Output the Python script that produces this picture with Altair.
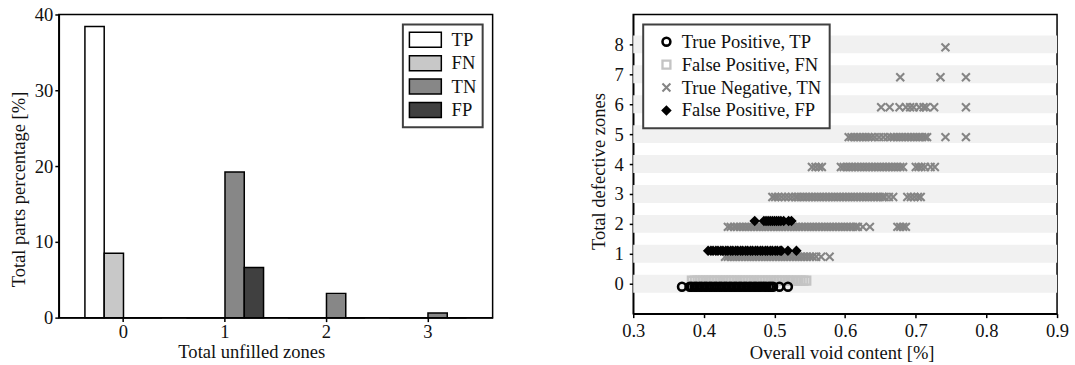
import altair as alt
import pandas as pd

FONT = "Liberation Serif"
FS = 18.6

# ---------------- Left chart data ----------------
zone_cats = [0, 1, 2, 3]
bar_classes = ["TP", "FN", "TN", "FP"]
tp_pct = [38.4, 0, 0, 0]
fn_pct = [8.5, 0, 0, 0]
tn_pct = [0, 19.2, 3.2, 0.6]
fp_pct = [0, 6.6, 0, 0]
bar_colors = ["#ffffff", "#c8c8c8", "#878787", "#404040"]

# ---------------- Right chart data ----------------
pt_labels = ["True Positive, TP", "False Positive, FN", "True Negative, TN", "False Positive, FP"]
defect_rows = [0, 1, 2, 3, 4, 5, 6, 7, 8]

tp_x_row0 = [0.369, 0.380, 0.383, 0.387, 0.390, 0.394, 0.397, 0.401, 0.404, 0.408, 0.411,
             0.415, 0.418, 0.422, 0.425, 0.429, 0.432, 0.436, 0.439, 0.443, 0.446, 0.450,
             0.453, 0.457, 0.460, 0.464, 0.467, 0.471, 0.474, 0.478, 0.481, 0.485, 0.488,
             0.492, 0.495, 0.498, 0.507, 0.519]

fn_x_row0 = [0.383, 0.387, 0.391, 0.395, 0.399, 0.403, 0.407, 0.411, 0.415, 0.419, 0.423,
             0.427, 0.431, 0.435, 0.439, 0.443, 0.447, 0.451, 0.455, 0.459, 0.463, 0.467,
             0.471, 0.475, 0.479, 0.483, 0.487, 0.491, 0.495, 0.499, 0.503, 0.507, 0.511,
             0.515, 0.519, 0.523, 0.527, 0.532, 0.537, 0.541, 0.545]

tn_x_row1 = [0.430, 0.434, 0.438, 0.442, 0.446, 0.450, 0.454, 0.458, 0.462, 0.466, 0.470,
             0.474, 0.478, 0.482, 0.486, 0.490, 0.494, 0.498, 0.502, 0.506, 0.510, 0.514,
             0.518, 0.522, 0.526, 0.530, 0.534, 0.538, 0.542, 0.546, 0.550, 0.554, 0.559,
             0.566, 0.578]
tn_x_row2 = [0.434, 0.438, 0.443, 0.447, 0.451, 0.455, 0.459, 0.463, 0.467, 0.471, 0.475,
             0.479, 0.483, 0.487, 0.491, 0.495, 0.499, 0.503, 0.507, 0.511, 0.515, 0.519,
             0.523, 0.527, 0.531, 0.535, 0.539, 0.543, 0.547, 0.551, 0.555, 0.559, 0.563,
             0.567, 0.571, 0.575, 0.579, 0.583, 0.587, 0.591, 0.595, 0.599, 0.603, 0.607,
             0.611, 0.615, 0.618, 0.625, 0.635, 0.674, 0.678, 0.682, 0.686]
tn_x_row3 = [0.497, 0.501, 0.505, 0.510, 0.515, 0.520, 0.525, 0.530, 0.533, 0.537, 0.541,
             0.545, 0.549, 0.553, 0.557, 0.561, 0.565, 0.569, 0.573, 0.577, 0.581, 0.585,
             0.589, 0.593, 0.597, 0.601, 0.605, 0.609, 0.613, 0.617, 0.621, 0.625, 0.629,
             0.633, 0.637, 0.641, 0.645, 0.649, 0.653, 0.656, 0.662, 0.668, 0.688, 0.693,
             0.698, 0.703, 0.707]
tn_x_row4 = [0.553, 0.558, 0.563, 0.567, 0.594, 0.598, 0.602, 0.606, 0.610, 0.614, 0.618,
             0.622, 0.626, 0.630, 0.634, 0.638, 0.642, 0.646, 0.650, 0.654, 0.658, 0.662,
             0.666, 0.670, 0.674, 0.678, 0.682, 0.700, 0.704, 0.708, 0.713, 0.721, 0.727]
tn_x_row5 = [0.605, 0.609, 0.613, 0.617, 0.621, 0.625, 0.629, 0.633, 0.637, 0.642, 0.648,
             0.654, 0.660, 0.665, 0.669, 0.673, 0.677, 0.681, 0.685, 0.689, 0.693, 0.697,
             0.701, 0.705, 0.709, 0.713, 0.716, 0.742, 0.771]
tn_x_row6 = [0.651, 0.663, 0.677, 0.686, 0.692, 0.697, 0.705, 0.711, 0.715, 0.726, 0.771]
tn_x_row7 = [0.678, 0.735, 0.771]
tn_x_row8 = [0.742]

fp_x_row1 = [0.406, 0.410, 0.413, 0.417, 0.420, 0.424, 0.427, 0.431, 0.434, 0.438, 0.441,
             0.445, 0.448, 0.452, 0.455, 0.459, 0.462, 0.466, 0.469, 0.473, 0.476, 0.480,
             0.483, 0.487, 0.490, 0.494, 0.497, 0.501, 0.504, 0.508, 0.510, 0.519, 0.531]
fp_x_row2 = [0.472, 0.485, 0.488, 0.491, 0.494, 0.497, 0.500, 0.503, 0.506, 0.509, 0.513,
             0.520, 0.524]

x_ticks = [0.3, 0.4, 0.5, 0.6, 0.7, 0.8, 0.9]

# ---------------- Build tables ----------------
left_rows = []
for cls, vals in zip(bar_classes, [tp_pct, fn_pct, tn_pct, fp_pct]):
    for z, v in zip(zone_cats, vals):
        left_rows.append({"zone": z, "cls": cls, "pct": v})
df_left = pd.DataFrame(left_rows)

TP, FNl, TN, FP = pt_labels
groups = [
    (FNl, 0, fn_x_row0, 0.1),
    (TN, 1, tn_x_row1, -0.1), (TN, 2, tn_x_row2, -0.1), (TN, 3, tn_x_row3, -0.1),
    (TN, 4, tn_x_row4, -0.1), (TN, 5, tn_x_row5, -0.1), (TN, 6, tn_x_row6, -0.1),
    (TN, 7, tn_x_row7, -0.1), (TN, 8, tn_x_row8, -0.1),
    (TP, 0, tp_x_row0, -0.1),
    (FP, 1, fp_x_row1, 0.1), (FP, 2, fp_x_row2, 0.1),
]
pts = []
order = 0
for cls, row, xs, off in groups:
    for v in xs:
        pts.append({"lab": cls, "zones": row, "y": row + off, "void": v, "ord": order})
        order += 1
df_pts = pd.DataFrame(pts)

df_bands = pd.DataFrame({"k": defect_rows})
df_bands["lo"] = df_bands["k"] - 0.3
df_bands["hi"] = df_bands["k"] + 0.3

# ---------------- Left chart ----------------
left_legend = alt.Legend(
    title=None, orient="top-right", offset=10, padding=6,
    strokeColor="#404040", fillColor="white",
    symbolType="M-2,-0.94H2V0.94H-2Z", symbolSize=256,
    symbolStrokeColor="black", symbolStrokeWidth=1.5, symbolOffset=7.25,
    labelOffset=17, labelFontSize=FS, labelFont=FONT, labelColor="#111",
    rowPadding=1.5,
)

left = alt.Chart(df_left).mark_bar(stroke="black", strokeWidth=1.5).encode(
    x=alt.X("zone:O",
            scale=alt.Scale(paddingInner=0.24, paddingOuter=0.257),
            axis=alt.Axis(title="Total unfilled zones", labelAngle=0, labelPadding=1,
                          titleX=193, titleY=40, titleBaseline="alphabetic",
                          titleAlign="center")),
    xOffset=alt.XOffset("cls:N", scale=alt.Scale(domain=bar_classes, paddingInner=0, paddingOuter=0)),
    y=alt.Y("pct:Q", scale=alt.Scale(domain=[0, 40], nice=False),
            axis=alt.Axis(title="Total parts percentage [%]", values=[0, 10, 20, 30, 40],
                          labelPadding=2, titleX=-40, titleY=175, titleAngle=270,
                          titleBaseline="middle", titleAlign="center")),
    fill=alt.Fill("cls:N", scale=alt.Scale(domain=bar_classes, range=bar_colors), legend=left_legend),
).properties(width=435, height=304)

# ---------------- Right chart ----------------
x_path = "M-1,-1L1,1M-1,1L1,-1"
right_legend = alt.Legend(
    title=None, orient="top-left", offset=10, padding=8,
    strokeColor="#404040", fillColor="white",
    labelFontSize=FS, labelFont=FONT, labelColor="#111",
    rowPadding=4, symbolOffset=6, labelOffset=6,
)

x_scale = alt.Scale(domain=[0.3, 0.9], nice=False, zero=False)
y_scale = alt.Scale(domain=[-1, 9], nice=False, zero=False)
x_axis = alt.Axis(title="Overall void content [%]", values=x_ticks, format=".1f",
                  labelFlush=False, labelPadding=4, titleX=209, titleY=45,
                  titleBaseline="alphabetic", titleAlign="center")
y_axis = alt.Axis(title="Total defective zones", values=defect_rows, labelPadding=6,
                  titleX=-35, titleY=157, titleAngle=270, titleBaseline="middle",
                  titleAlign="center")

bands = alt.Chart(df_bands).mark_rect(color="#f1f1f1").encode(
    x=alt.X(datum=x_ticks[0], scale=x_scale, axis=x_axis),
    x2=alt.X2(datum=x_ticks[-1]),
    y=alt.Y("lo:Q", scale=y_scale, axis=y_axis),
    y2="hi:Q",
)

points = alt.Chart(df_pts).mark_point(opacity=1).encode(
    x=alt.X("void:Q", scale=x_scale, axis=x_axis),
    y=alt.Y("y:Q", scale=y_scale, axis=y_axis),
    shape=alt.Shape("lab:N", scale=alt.Scale(domain=pt_labels, range=["circle", "square", x_path, "diamond"]), legend=right_legend),
    stroke=alt.Stroke("lab:N", scale=alt.Scale(domain=pt_labels, range=["#000000", "#c4c4c4", "#858585", "#000000"]), legend=right_legend),
    fill=alt.Fill("lab:N", scale=alt.Scale(domain=pt_labels, range=["transparent", "transparent", "transparent", "#000000"]), legend=right_legend),
    size=alt.Size("lab:N", scale=alt.Scale(domain=pt_labels, range=[62, 64, 81, 100]), legend=right_legend),
    strokeWidth=alt.StrokeWidth("lab:N", scale=alt.Scale(domain=pt_labels, range=[2.6, 1.8, 2.2, 1]), legend=right_legend),
    order=alt.Order("ord:Q"),
)

right = alt.layer(bands, points).properties(width=425, height=300)

indep = dict(fill="independent", stroke="independent", shape="independent",
             size="independent", strokeWidth="independent")

chart = alt.hconcat(left, right, spacing=141, bounds="flush").resolve_scale(
    x="independent", y="independent", **indep
).resolve_legend(**indep).properties(
    padding={"left": 9, "top": 4, "right": 5, "bottom": 5}
).configure_view(
    stroke="black", strokeWidth=1.5
).configure_axis(
    labelFont=FONT, labelFontSize=FS, labelColor="#111",
    titleFont=FONT, titleFontSize=FS, titleFontWeight="normal", titleColor="#111",
    domainColor="black", domainWidth=1.5, tickColor="black", tickWidth=1.5, tickSize=4,
    grid=False,
).configure_legend(
    strokeWidth=2
)

chart.save("out.html", embed_options={"renderer": "svg", "actions": False})
